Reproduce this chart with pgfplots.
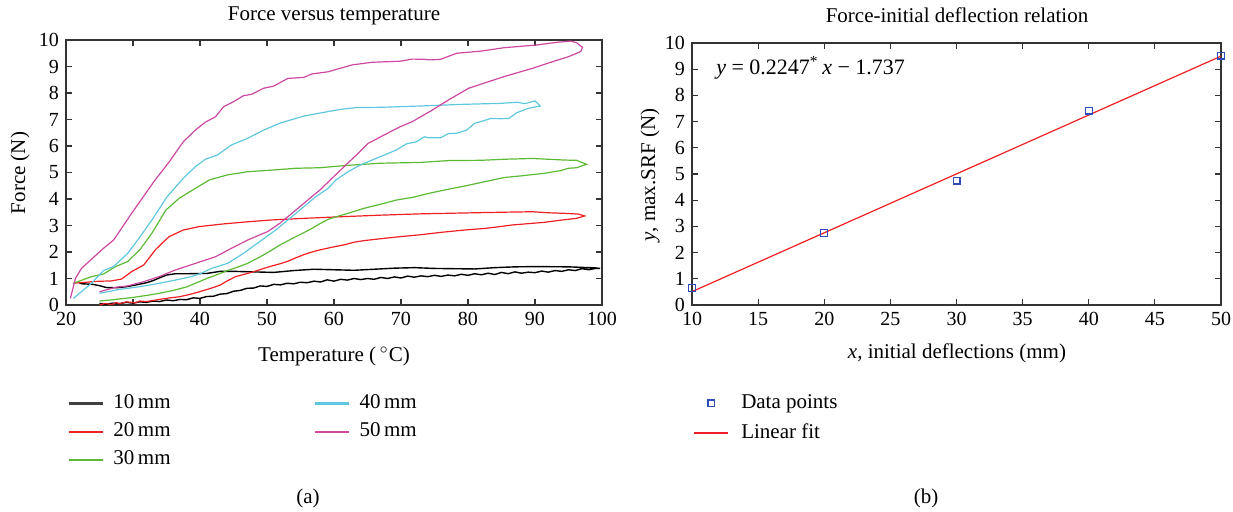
\documentclass[border=0pt]{standalone}
\usepackage{fontspec}
\setmainfont{Liberation Serif}
\usepackage{pgfplots}
\pgfplotsset{compat=1.18}
\definecolor{cred}{RGB}{238,32,36}
\definecolor{cgreen}{RGB}{92,186,52}
\definecolor{ccyan}{RGB}{96,200,222}
\definecolor{cmag}{RGB}{205,72,160}
\definecolor{cblue}{RGB}{45,75,185}
\pgfplotsset{
  myaxis/.style={
    scale only axis, anchor=south west,
    ymin=0, ymax=10, ytick={0,1,...,10},
    tick align=inside, major tick length=3pt,
    xtick pos=both, ytick pos=both,
    axis line style={draw=black!80, line width=0.6pt},
    every tick/.style={draw=black!80, line width=0.6pt},
    tick label style={font=\fontsize{10}{12}\selectfont},
    /pgf/number format/assume math mode=true,
    legend cell align=left,
  }
}
\begin{document}
\begin{tikzpicture}[x=1pt,y=1pt,font=\fontsize{10.5}{12.5}\selectfont]
\path[use as bounding box] (0,0) rectangle (616.5,255.5);
% ---------------- (a) ----------------
\begin{axis}[myaxis, at={(33pt,103pt)}, width=268pt, height=132.5pt,
  xmin=20, xmax=100, xtick={20,30,...,100},
  legend columns=2,
  legend image code/.code={\draw[#1] (0pt,0pt) -- (17pt,0pt);},
  legend style={at={(0.002,-0.325)}, anchor=north west, draw=none, fill=none,
    inner sep=0pt, font=\fontsize{10.5}{12.5}\selectfont, row sep=2pt,
    nodes={inner sep=1pt, text height=7.5pt, text depth=2.5pt},
    /tikz/every odd column/.style={column sep=3.9pt},
    /tikz/every even column/.style={column sep=70.5pt}},
]
\addlegendimage{draw=black!75, line width=1.1pt}\addlegendentry{10\,mm}
\addlegendimage{draw=ccyan, line width=1.1pt}\addlegendentry{40\,mm}
\addlegendimage{draw=cred, line width=1pt}\addlegendentry{20\,mm}
\addlegendimage{draw=cmag, line width=1pt}\addlegendentry{50\,mm}
\addlegendimage{draw=cgreen, line width=1pt}\addlegendentry{30\,mm}
% 10 mm
\addplot[draw=black, line width=0.7pt, forget plot] coordinates {
(25,0.06)(26,0.03)(27,0.07)(28,0.05)(29,0.1)(30,0.07)(31,0.12)(32,0.1)(33,0.15)(34,0.13)(35,0.19)(36,0.16)(37,0.21)(38,0.2)(39,0.27)(40,0.25)(41,0.32)(42,0.33)(43,0.41)(44,0.43)(45,0.52)(46,0.55)(47,0.63)(48,0.64)(49,0.72)(50,0.7)(51,0.78)(52,0.76)(53,0.82)(54,0.8)(55,0.86)(56,0.84)(57,0.9)(58,0.87)(59,0.95)(60,0.9)(61,0.97)(62,0.94)(63,1.0)(64,0.96)(65,1.0)(66,0.97)(67,1.04)(68,1.0)(69,1.06)(70,1.02)(71,1.09)(72,1.05)(73,1.1)(74,1.07)(75,1.12)(76,1.08)(77,1.13)(78,1.1)(79,1.16)(80,1.12)(81,1.18)(82,1.14)(83,1.2)(84,1.15)(85,1.23)(86,1.18)(87,1.25)(88,1.2)(89,1.24)(90,1.22)(91,1.28)(92,1.24)(93,1.3)(94,1.27)(95,1.33)(96,1.3)(97,1.37)(98,1.33)(99,1.38)(99.7,1.38)
(99,1.4)(97,1.42)(95,1.44)(90,1.45)(87,1.44)(84,1.41)(81,1.36)(78,1.37)(75,1.38)(72,1.41)(69,1.39)(66,1.35)(63,1.31)(60,1.33)(57,1.35)(54,1.3)(51,1.23)(48,1.25)(45,1.27)(43,1.27)(41,1.19)(38,1.18)(36.3,1.18)(35,1.13)(34,1.03)(33,0.92)(32,0.84)(30.5,0.76)(29,0.69)(27.5,0.65)(26,0.66)(25,0.73)(24,0.78)(22.5,0.8)(22,0.82)
};
% 20 mm
\addplot[draw=cred, line width=0.6pt, forget plot] coordinates {
(25,0.0)(25.8,0.06)(26.8,0.02)(27.5,0.09)(28,0.05)(29,0.12)(30.4,0.08)(31,0.15)(32,0.13)(33.9,0.21)(35.5,0.27)(36.9,0.31)(38.5,0.4)(39.9,0.5)(41.5,0.62)(43,0.75)(44,0.9)(45.3,1.07)(46.8,1.17)(48.3,1.28)(49.5,1.38)(50.7,1.47)(52,1.56)(53.1,1.65)(54.3,1.78)(55.5,1.9)(56.7,2.0)(57.9,2.08)(59.5,2.17)(61.5,2.27)(63,2.37)(64.5,2.43)(66.9,2.5)(69.9,2.58)(72.9,2.65)(75.9,2.74)(79.5,2.83)(82.5,2.89)(84.5,2.95)(86.6,3.02)(89,3.07)(91.4,3.12)(93.8,3.2)(96.2,3.27)(97.4,3.36)
(96.5,3.43)(94.4,3.46)(92,3.48)(89.6,3.52)(84.9,3.5)(78.9,3.47)(72.9,3.44)(66.9,3.39)(60.9,3.33)(55.5,3.27)(50.7,3.21)(47.1,3.14)(43.5,3.06)(39.9,2.96)(37.5,2.83)(35.4,2.58)(34.2,2.3)(33.4,2.1)(31.6,1.51)(29.8,1.26)(28.3,0.98)(26.8,0.91)(24.4,0.89)(21.1,0.82)
};
% 30 mm
\addplot[draw=cgreen, line width=0.6pt, forget plot] coordinates {
(25,0.15)(27,0.2)(29.8,0.28)(32,0.36)(33.9,0.44)(36,0.55)(38.1,0.69)(39.5,0.84)(41.1,1.01)(42.6,1.15)(44.1,1.3)(45.6,1.43)(47.1,1.57)(48.3,1.73)(49.5,1.89)(50.7,2.07)(51.9,2.26)(53.1,2.42)(54.3,2.58)(55.5,2.73)(56.7,2.89)(57.9,3.07)(59.1,3.23)(60.6,3.35)(62.1,3.46)(64.5,3.65)(66.9,3.8)(69.3,3.96)(71.7,4.06)(74.1,4.21)(76.5,4.34)(79.5,4.49)(81.9,4.62)(85.4,4.81)(87.8,4.87)(91.4,4.97)(93.8,5.07)(95,5.16)(96.2,5.18)(97.7,5.31)
(96.2,5.46)(94.4,5.47)(89.6,5.53)(85.4,5.5)(81.9,5.46)(77.1,5.45)(72.9,5.38)(66.9,5.35)(61.5,5.26)(57.9,5.18)(54.3,5.16)(50.7,5.09)(47.1,5.03)(44.1,4.91)(41.4,4.72)(39.3,4.4)(36.9,4.03)(34.9,3.58)(32.8,2.7)(31,2.08)(29.2,1.64)(27.4,1.45)(25.6,1.17)(23.8,1.07)(21.1,0.82)
};
% 40 mm
\addplot[draw=ccyan, line width=0.6pt, forget plot] coordinates {
(25,0.44)(28,0.59)(31,0.69)(33.9,0.82)(36.3,0.94)(38.7,1.07)(40.2,1.2)(41.7,1.38)(44.1,1.57)(46.5,1.95)(48.9,2.39)(51.3,2.83)(53.7,3.33)(55.5,3.71)(57.3,4.09)(59.1,4.4)(60.3,4.72)(62.1,5.03)(63.9,5.28)(65.7,5.47)(67.5,5.66)(69.3,5.85)(70.8,6.08)(72.3,6.16)(73.5,6.35)(74.1,6.31)(75.9,6.31)(77.1,6.47)(78.3,6.48)(79.8,6.6)(81,6.86)(82.2,6.94)(83.4,7.04)(84.9,7.03)(86.1,7.04)(87.3,7.26)(89,7.42)(90.8,7.51)
(90,7.7)(88.5,7.6)(87.3,7.65)(84.9,7.61)(78.9,7.57)(72.9,7.51)(66.9,7.46)(63.3,7.45)(60.9,7.38)(58.5,7.27)(55.5,7.13)(51.9,6.86)(49.5,6.6)(47.1,6.29)(44.7,6.04)(42.6,5.66)(40.8,5.5)(39.3,5.22)(37.5,4.78)(35.1,4.09)(32.8,3.2)(30.7,2.45)(29.2,1.95)(27.1,1.45)(25.6,1.3)(23.8,0.82)(21.1,0.25)
};
% 50 mm
\addplot[draw=cmag, line width=0.6pt, forget plot] coordinates {
(25,0.5)(27.4,0.67)(29.2,0.72)(31.6,0.88)(33.9,1.07)(36.3,1.32)(39.3,1.57)(42.3,1.82)(44.7,2.14)(47.1,2.45)(50.1,2.77)(51.9,3.08)(54.3,3.58)(56.7,4.09)(57.9,4.34)(59.7,4.78)(61.5,5.22)(63.6,5.72)(65.1,6.1)(67.5,6.42)(69.9,6.73)(71.7,6.92)(74.7,7.36)(77.1,7.74)(80.1,8.18)(83.1,8.43)(85.4,8.62)(89.6,8.93)(92.6,9.18)(95,9.37)(96.8,9.56)(97.1,9.72)
(96.2,9.9)(95.3,9.96)(93.2,9.91)(90.2,9.81)(85.4,9.71)(81.9,9.58)(78.3,9.5)(75.9,9.27)(74.4,9.25)(73.5,9.27)(71.7,9.28)(69.9,9.2)(65.7,9.16)(62.7,9.06)(59.1,8.8)(56.7,8.72)(55.5,8.59)(53.1,8.55)(51,8.26)(49.5,8.18)(47.7,7.95)(46.5,7.9)(45,7.67)(43.5,7.48)(42.3,7.1)(40.8,6.9)(39.3,6.6)(37.5,6.16)(35.4,5.4)(33.1,4.65)(31.3,4.0)(29.8,3.46)(27.1,2.45)(25.6,2.14)(22.3,1.38)(21.4,1.0)(20.66,0.25)
};
\end{axis}
% ---------------- (b) ----------------
\begin{axis}[myaxis, at={(346pt,103pt)}, width=264.5pt, height=131pt,
  xmin=10, xmax=50, xtick={10,15,...,50},
  legend image code/.code={\draw[mark repeat=2,mark phase=2,#1] plot coordinates {(0pt,0pt) (8.5pt,0pt) (17pt,0pt)};},
  legend image post style={line width=1pt},
  legend style={at={(0.002,-0.328)}, anchor=north west, draw=none, fill=none,
    inner sep=0pt, font=\fontsize{10.5}{12.5}\selectfont, row sep=3pt,
    nodes={inner sep=1pt, text height=7.5pt, text depth=2.5pt},
    /tikz/every odd column/.style={column sep=4.9pt}},
]
\addplot[draw=cblue, only marks, mark=square, mark size=1.7pt, mark options={draw=cblue, fill=none, line width=0.6pt}] coordinates {
(10,0.65)(20,2.75)(30,4.75)(40,7.42)(50,9.52)
};
\addlegendentry{Data points}
\addplot[draw=cred, line width=0.6pt] coordinates {(10,0.51)(50,9.498)};
\addlegendentry{Linear fit}
\node[anchor=west, font=\fontsize{11}{13}\selectfont] at (axis cs:11.3,9.05) {\textit{y} = 0.2247\textsuperscript{*}\,\textit{x} − 1.737};
\end{axis}
% texts
\node at (167,247.75) {Force versus temperature};
\node at (167,77.5) {Temperature (\,$^{\circ}$C)};
\node[rotate=90] at (10,169) {Force (N)};
\node at (154,6.5) {(a)};
\node at (478.5,247.75) {Force-initial deflection relation};
\node at (478.5,79) {\textit{x}, initial deflections (mm)};
\node[rotate=90] at (325,168) {\textit{y}, max.SRF (N)};
\node at (463,6.5) {(b)};
\end{tikzpicture}
\end{document}
